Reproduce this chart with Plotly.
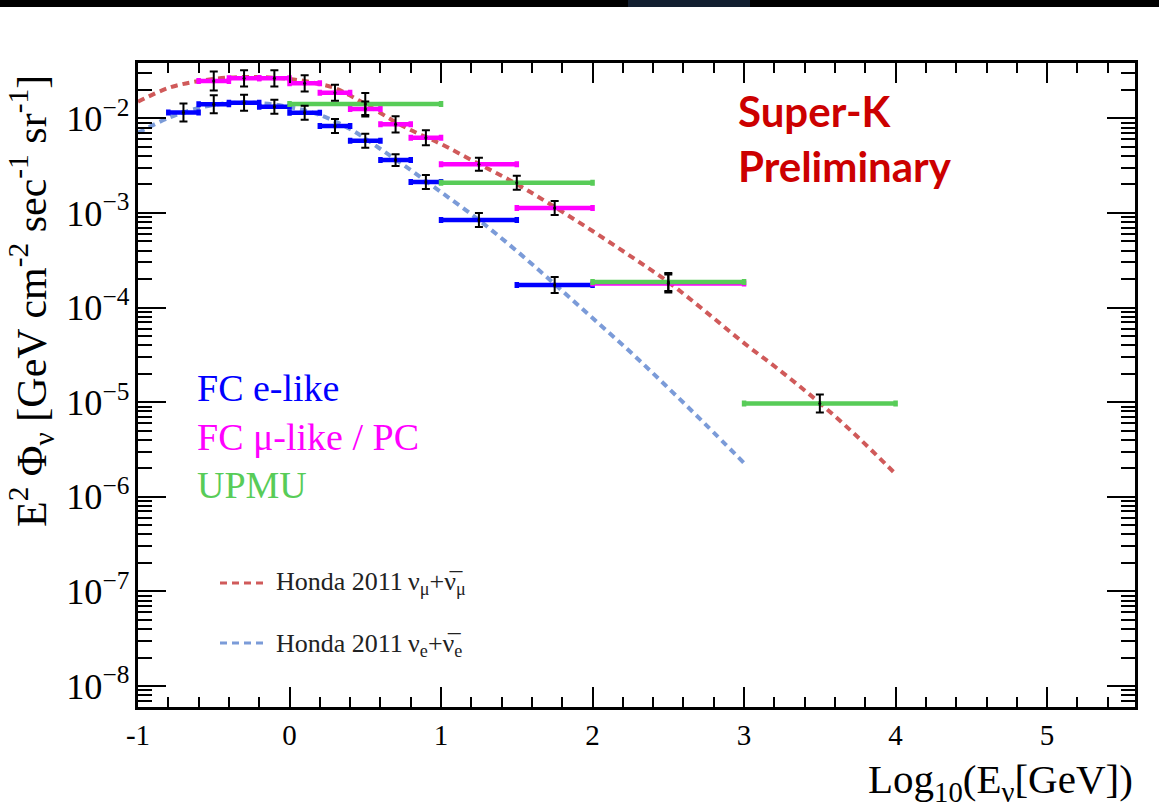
import numpy as np
import plotly.graph_objects as go

# ---------------- data ----------------
# FC e-like (bins in log10(E/GeV))
e_lo = [-0.8, -0.6, -0.4, -0.2, 0.0, 0.2, 0.4, 0.6, 0.8, 1.0, 1.5]
e_hi = [-0.6, -0.4, -0.2, 0.0, 0.2, 0.4, 0.6, 0.8, 1.0, 1.5, 2.0]
e_flux = [0.01156, 0.01406, 0.01462, 0.01327, 0.01145, 0.00829, 0.00580,
          0.00362, 0.00212, 0.000842, 0.000173]
e_err_dex = [0.095, 0.095, 0.085, 0.074, 0.074, 0.074, 0.074, 0.063, 0.074,
             0.074, 0.085]

# FC mu-like / PC
mu_lo = [-0.6, -0.4, -0.2, 0.0, 0.2, 0.4, 0.6, 0.8, 1.0, 1.5, 2.0]
mu_hi = [-0.4, -0.2, 0.0, 0.2, 0.4, 0.6, 0.8, 1.0, 1.5, 2.0, 3.0]
mu_flux = [0.02478, 0.02648, 0.02648, 0.02344, 0.01866, 0.01254, 0.00864,
           0.00624, 0.00327, 0.001128, 0.000180]
mu_err_dex = [0.10, 0.085, 0.085, 0.085, 0.085, 0.079, 0.085, 0.079, 0.069,
              0.074, 0.095]

# UPMU
up_lo = [0.0, 1.0, 2.0, 3.0]
up_hi = [1.0, 2.0, 3.0, 4.0]
up_flux = [0.01416, 0.002085, 0.000186, 9.7e-6]
up_err_dex = [0.116, 0.074, 0.095, 0.095]

# Honda 2011 numu + numubar
honda_mu_x = [-1.0, -0.8, -0.6, -0.4, -0.2, 0.0, 0.1, 0.2, 0.3, 0.4, 0.5, 0.6,
              0.7, 0.8, 0.9, 1.0, 1.25, 1.5, 1.75, 2.0, 2.25, 2.5, 2.75, 3.0,
              3.25, 3.5, 3.75, 4.0]
honda_mu_y = [0.01497, 0.02091, 0.02479, 0.02700, 0.02733, 0.02603, 0.02479,
              0.02305, 0.02091, 0.01742, 0.01416, 0.01138, 0.00914, 0.00752,
              0.00634, 0.00535, 0.00329, 0.00202, 0.001155, 0.000644,
              0.000350, 0.000186, 8.96e-5, 4.21e-5, 2.08e-5, 9.78e-6,
              4.28e-6, 1.74e-6]

# Honda 2011 nue + nuebar
honda_e_x = [-1.0, -0.8, -0.6, -0.4, -0.2, 0.0, 0.2, 0.4, 0.6, 0.8, 1.0, 1.25,
             1.5, 1.75, 2.0, 2.25, 2.5, 2.75, 3.0]
honda_e_y = [0.00704, 0.01007, 0.01285, 0.01451, 0.01451, 0.01317, 0.01083,
             0.00770, 0.00474, 0.00284, 0.001663, 0.000841, 0.000396,
             0.000177, 7.74e-5, 3.39e-5, 1.41e-5, 5.73e-6, 2.27e-6]

x_ticks = [-1, 0, 1, 2, 3, 4, 5]

# ---------------- style ----------------
SERIF = "Liberation Serif"
C_E = "#0000ff"
C_MU = "#ff00ff"
C_UP = "#58cc58"
C_HMU = "#d05a5a"
C_HE = "#7b9bd8"

W, H = 1159, 812
ML, MR, MT, MB = 138, 24, 63, 105
PW, PH = W - ML - MR, H - MT - MB


def px2paper_x(px):
    return (px - ML) / PW


def px2paper_y(py):
    return (H - MB - py) / PH


fig = go.Figure()

# Honda curves
fig.add_trace(go.Scatter(x=honda_mu_x, y=honda_mu_y, mode="lines",
                         line=dict(color=C_HMU, width=4, dash="7px,5px",
                                   shape="spline"),
                         showlegend=False, hoverinfo="skip"))
fig.add_trace(go.Scatter(x=honda_e_x, y=honda_e_y, mode="lines",
                         line=dict(color=C_HE, width=4, dash="7px,5px",
                                   shape="spline"),
                         showlegend=False, hoverinfo="skip"))


def add_series(lo, hi, flux, err_dex, color):
    lo = np.array(lo)
    hi = np.array(hi)
    f = np.array(flux)
    d = np.array(err_dex)
    xc = (lo + hi) / 2
    hw = (hi - lo) / 2
    # horizontal bin bars (coloured)
    fig.add_trace(go.Scatter(
        x=xc, y=f, mode="markers",
        marker=dict(size=5, color=color),
        error_x=dict(type="data", array=hw, symmetric=True, color=color,
                     thickness=4.5, width=3),
        showlegend=False, hoverinfo="skip"))
    return xc, f, d


series = [
    add_series(e_lo, e_hi, e_flux, e_err_dex, C_E),
    add_series(mu_lo, mu_hi, mu_flux, mu_err_dex, C_MU),
    add_series(up_lo, up_hi, up_flux, up_err_dex, C_UP),
]

# black vertical statistical error bars on top
for xc, f, d in series:
    fig.add_trace(go.Scatter(
        x=xc, y=f, mode="markers",
        marker=dict(size=3, color="black"),
        error_y=dict(type="data", array=f * (10 ** d - 1),
                     arrayminus=f * (1 - 10 ** (-d)), color="black",
                     thickness=2, width=4),
        showlegend=False, hoverinfo="skip"))

# ---------------- annotations ----------------
ann = []
ann.append(dict(text="Super-K<br>Preliminary", x=px2paper_x(736),
                y=px2paper_y(138), xref="paper", yref="paper",
                xanchor="left", yanchor="middle", align="left",
                showarrow=False,
                font=dict(family="Lato", size=42, color="#cc0000",
                          weight="bold")))

for txt, col, yc in [("FC e-like", C_E, 388),
                     ("FC μ-like / PC", C_MU, 437),
                     ("UPMU", C_UP, 485)]:
    ann.append(dict(text=txt, x=px2paper_x(195), y=px2paper_y(yc),
                    xref="paper", yref="paper", xanchor="left",
                    yanchor="middle", showarrow=False,
                    font=dict(family=SERIF, size=38, color=col)))

for txt, yc in [("Honda 2011\u2009ν<sub>μ</sub>+ν\u0305<sub>μ</sub>", 583),
                ("Honda 2011\u2009ν<sub>e</sub>+ν\u0305<sub>e</sub>", 645)]:
    ann.append(dict(text=txt, x=px2paper_x(274), y=px2paper_y(yc),
                    xref="paper", yref="paper", xanchor="left",
                    yanchor="middle", showarrow=False,
                    font=dict(family=SERIF, size=26, color="#222222")))

# axis titles
ann.append(dict(text="E<sup>2</sup> Φ<sub>ν</sub> [GeV cm<sup>-2</sup> sec<sup>-1</sup> sr<sup>-1</sup>]",
                x=px2paper_x(31), y=px2paper_y(301), xref="paper",
                yref="paper", xanchor="center", yanchor="middle",
                textangle=-90, showarrow=False,
                font=dict(family=SERIF, size=42, color="black")))
ann.append(dict(text="Log<sub>10</sub>(E<sub>ν</sub>[GeV])",
                x=1.0, y=px2paper_y(782), xref="paper", yref="paper",
                xanchor="right", yanchor="middle", showarrow=False,
                font=dict(family=SERIF, size=41, color="black")))

shapes = [
    # legend line samples
    dict(type="line", xref="paper", yref="paper",
         x0=px2paper_x(220), x1=px2paper_x(266),
         y0=px2paper_y(583), y1=px2paper_y(583),
         line=dict(color=C_HMU, width=3, dash="7px,5px")),
    dict(type="line", xref="paper", yref="paper",
         x0=px2paper_x(220), x1=px2paper_x(266),
         y0=px2paper_y(643), y1=px2paper_y(643),
         line=dict(color=C_HE, width=3, dash="7px,5px")),
    # top screen bar
    dict(type="rect", xref="paper", yref="paper",
         x0=px2paper_x(0), x1=px2paper_x(W),
         y0=px2paper_y(7), y1=px2paper_y(0),
         fillcolor="black", line=dict(width=0), layer="above"),
    dict(type="rect", xref="paper", yref="paper",
         x0=px2paper_x(628), x1=px2paper_x(750),
         y0=px2paper_y(7), y1=px2paper_y(0),
         fillcolor="#131f30", line=dict(width=0), layer="above"),
]

fig.update_layout(
    width=W, height=H,
    margin=dict(l=ML, r=MR, t=MT, b=MB, pad=0),
    paper_bgcolor="white", plot_bgcolor="white",
    annotations=ann, shapes=shapes,
    font=dict(family=SERIF, color="black"),
)

fig.update_xaxes(
    range=[-1, 5.58], tickvals=x_ticks, ticktext=[str(v) for v in x_ticks],
    ticks="inside", ticklen=20, tickwidth=2, tickcolor="black",
    minor=dict(ticks="inside", ticklen=10, tickwidth=2, dtick=0.2,
               tick0=-1, tickcolor="black"),
    showline=True, linecolor="black", linewidth=2.5, mirror="allticks",
    showgrid=False, zeroline=False,
    tickfont=dict(family=SERIF, size=29, color="black"),
)
fig.update_yaxes(
    type="log", range=[-8.222, -1.415], dtick=1, exponentformat="power",
    ticks="inside", ticklen=28, tickwidth=2, tickcolor="black",
    minor=dict(ticks="inside", ticklen=14, tickwidth=2, dtick="D1",
               tickcolor="black"),
    showline=True, linecolor="black", linewidth=2.5, mirror="allticks",
    showgrid=False, zeroline=False,
    tickfont=dict(family=SERIF, size=29, color="black"),
)

fig.write_html("out.html")
